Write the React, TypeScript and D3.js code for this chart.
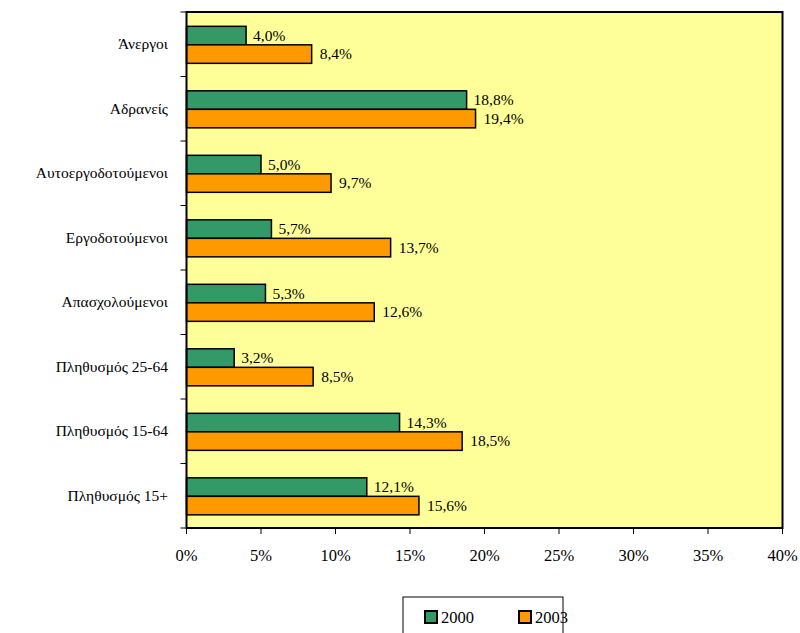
import React from "react";
import * as d3 from "d3";

const categories = [
  "Άνεργοι",
  "Αδρανείς",
  "Αυτοεργοδοτούμενοι",
  "Εργοδοτούμενοι",
  "Απασχολούμενοι",
  "Πληθυσμός 25-64",
  "Πληθυσμός 15-64",
  "Πληθυσμός 15+",
];
const values2000 = [4.0, 18.8, 5.0, 5.7, 5.3, 3.2, 14.3, 12.1];
const values2003 = [8.4, 19.4, 9.7, 13.7, 12.6, 8.5, 18.5, 15.6];
const xTicks = [0, 5, 10, 15, 20, 25, 30, 35, 40];
const seriesNames = ["2000", "2003"];

const W = 800;
const H = 633;
const L = 186.5;
const R = 782.5;
const T = 12;
const B = 528;
const GREEN = "#339966";
const ORANGE = "#FF9900";
const BG = "#FFFF99";
const FONT = "Liberation Serif, Times New Roman, DejaVu Serif, serif";

const fmt = (v: number) => v.toFixed(1).replace(".", ",") + "%";

export default function App() {
  const x = d3.scaleLinear().domain([0, 40]).range([L, R]);
  const y = d3.scaleBand<string>().domain(categories).range([T, B]).paddingInner(0).paddingOuter(0);
  const band = y.bandwidth();
  const barH = band * 0.287;
  const off = band * 0.222;
  const boundaries = d3.range(categories.length + 1).map((i) => T + i * band);
  const ts = { fontFamily: FONT };

  return (
    <svg width={W} height={H} style={{ position: "absolute", left: 0, top: 0, background: "#fff", fontFamily: FONT }}>
      <rect x={L} y={T} width={R - L} height={B - T} fill={BG} />
      {boundaries.map((b, i) => (
        <line key={"yt" + i} x1={L - 6} x2={L} y1={b} y2={b} stroke="#000" strokeWidth={1} />
      ))}
      {xTicks.map((t) => (
        <g key={"xt" + t}>
          <line x1={x(t)} x2={x(t)} y1={B} y2={B + 6} stroke="#000" strokeWidth={1} />
          <text x={x(t)} y={561} textAnchor="middle" fontSize={16.5} fill="#000" style={ts}>
            {t + "%"}
          </text>
        </g>
      ))}
      {categories.map((c, i) => {
        const y0 = (y(c) as number) + off;
        return (
          <g key={c}>
            <text x={168} y={(y(c) as number) + band / 2 + 5} textAnchor="end" fontSize={15.5} fill="#000" style={ts}>
              {c}
            </text>
            <rect x={x(0)} y={y0} width={x(values2000[i]) - x(0)} height={barH} fill={GREEN} stroke="#000" strokeWidth={1.5} />
            <rect x={x(0)} y={y0 + barH} width={x(values2003[i]) - x(0)} height={barH} fill={ORANGE} stroke="#000" strokeWidth={1.5} />
            <text x={x(values2000[i]) + 7} y={y0 + barH - 4} fontSize={15.5} fill="#000" style={ts}>
              {fmt(values2000[i])}
            </text>
            <text x={x(values2003[i]) + 8} y={y0 + barH * 1.5 + 5} fontSize={15.5} fill="#000" style={ts}>
              {fmt(values2003[i])}
            </text>
          </g>
        );
      })}
      <rect x={L} y={T} width={R - L} height={B - T} fill="none" stroke="#000" strokeWidth={2} />
      <g>
        <rect x={403} y={597} width={160} height={50} fill="#fff" stroke="#000" strokeWidth={1} />
        {seriesNames.map((s, i) => {
          const lx = i === 0 ? 425 : 519;
          return (
            <g key={s}>
              <rect x={lx} y={611} width={12} height={12} fill={i === 0 ? GREEN : ORANGE} stroke="#000" strokeWidth={2} />
              <text x={lx + 16} y={623} fontSize={16.5} fill="#000" style={ts}>
                {s}
              </text>
            </g>
          );
        })}
      </g>
    </svg>
  );
}
